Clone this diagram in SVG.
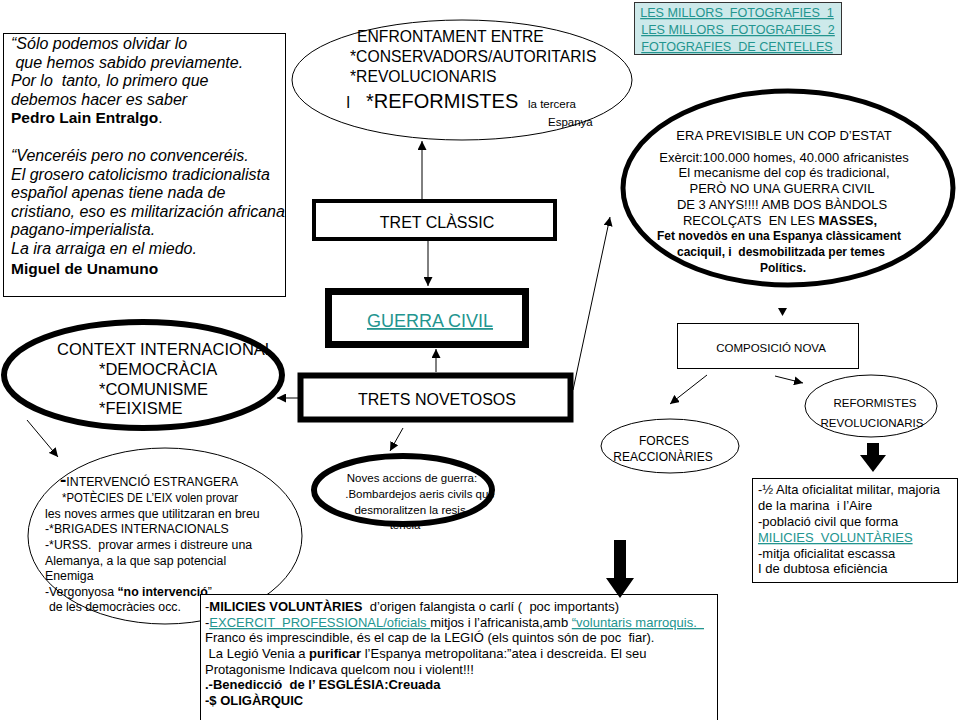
<svg xmlns="http://www.w3.org/2000/svg" width="960" height="720" viewBox="0 0 960 720" xml:space="preserve">
<defs>
<marker id="ah" viewBox="0 0 10 10" refX="10" refY="5" markerWidth="9" markerHeight="9" markerUnits="userSpaceOnUse" orient="auto"><path d="M0,0 L10,5 L0,10 z" fill="#000"/></marker>
</defs>
<style>
text{font-family:"Liberation Sans",Arial,Helvetica,sans-serif;fill:#000;white-space:pre}
.thin{fill:#fff;stroke:#000;stroke-width:1}
.link{fill:#23958f;text-decoration:underline}
.conn{stroke:#000;stroke-width:1;fill:none;marker-end:url(#ah)}
.q{font-size:16px;font-style:italic}
.b{font-weight:bold}
.mid{text-anchor:middle}
.s{font-size:13px}
.sb{font-size:13px;font-weight:bold}
</style>
<rect x="0" y="0" width="960" height="720" fill="#fff"/>

<g id="quotes">
<rect x="3.5" y="33.5" width="282" height="263" class="thin"/>
<text class="q" x="11" y="49">“Sólo podemos olvidar lo</text>
<text class="q" x="11" y="67.5" xml:space="preserve"> que hemos sabido previamente.</text>
<text class="q" x="11" y="86" xml:space="preserve">Por lo  tanto, lo primero que</text>
<text class="q" x="11" y="104.5">debemos hacer es saber</text>
<text x="11" y="123" font-size="15.5"><tspan class="b">Pedro Lain Entralgo</tspan>.</text>
<text class="q" x="11" y="161">“Venceréis pero no convenceréis.</text>
<text class="q" x="11" y="179.5">El grosero catolicismo tradicionalista</text>
<text class="q" x="11" y="198">español apenas tiene nada de</text>
<text class="q" x="11" y="216.5">cristiano, eso es militarización africana</text>
<text class="q" x="11" y="235">pagano-imperialista.</text>
<text class="q" x="11" y="253.5">La ira arraiga en el miedo.</text>
<text x="11" y="274" font-size="15.5" class="b">Miguel de Unamuno</text>
</g>

<g id="enfrontament">
<ellipse cx="462" cy="80" rx="170" ry="60" class="thin"/>
<text x="357" y="42" font-size="15.7">ENFRONTAMENT ENTRE</text>
<text x="350" y="62" font-size="15.7">*CONSERVADORS/AUTORITARIS</text>
<text x="350" y="82" font-size="15.7">*REVOLUCIONARIS</text>
<text x="346" y="108" font-size="15.7">I<tspan x="366" font-size="20">*REFORMISTES</tspan><tspan x="528" font-size="11.5">la tercera</tspan></text>
<text x="548" y="126" font-size="11.5">Espanya</text>
</g>

<g id="links">
<rect x="634.5" y="2.5" width="207" height="52" fill="#cde9ea" stroke="#333" stroke-width="1"/>
<text class="link mid" x="737" y="17" font-size="12.6" xml:space="preserve">LES MILLORS  FOTOGRAFIES  1</text>
<text class="link mid" x="738" y="34" font-size="12.6" xml:space="preserve">LES MILLORS  FOTOGRAFIES  2</text>
<text class="link mid" x="737" y="51" font-size="12.6" xml:space="preserve">FOTOGRAFIES  DE CENTELLES</text>
</g>

<g id="cop-estat">
<ellipse cx="788" cy="188" rx="165" ry="97" fill="#fff" stroke="#000" stroke-width="5"/>
<text class="mid" x="784" y="140" font-size="13">ERA PREVISIBLE UN COP D’ESTAT</text>
<text class="mid" x="784" y="162" font-size="13">Exèrcit:100.000 homes, 40.000 africanistes</text>
<text class="mid" x="784" y="177" font-size="13">El mecanisme del cop és tradicional,</text>
<text class="mid" x="782" y="193" font-size="13">PERÒ NO UNA GUERRA CIVIL</text>
<text class="mid" x="782" y="209" font-size="13">DE 3 ANYS!!!! AMB DOS BÀNDOLS</text>
<text class="mid" x="780" y="225" font-size="13" xml:space="preserve">RECOLÇATS  EN LES <tspan class="b">MASSES,</tspan></text>
<text class="mid b" x="779" y="240" font-size="12">Fet novedòs en una Espanya clàssicament</text>
<text class="mid b" x="781" y="256" font-size="12" xml:space="preserve">caciquil, i  desmobilitzada per temes</text>
<text class="mid b" x="783" y="272" font-size="12">Polítics.</text>
</g>

<g id="tret-classic">
<rect x="314" y="201" width="241" height="38" fill="#fff" stroke="#000" stroke-width="4"/>
<text class="mid" x="437" y="228" font-size="16">TRET CLÀSSIC</text>
</g>

<g id="guerra-civil">
<rect x="328.5" y="291.5" width="197" height="53" fill="#fff" stroke="#000" stroke-width="7"/>
<text class="mid link" x="430" y="327" font-size="18">GUERRA CIVIL</text>
</g>

<g id="trets-novetosos">
<rect x="300.5" y="375.5" width="270" height="44" fill="#fff" stroke="#000" stroke-width="6"/>
<text class="mid" x="437" y="405" font-size="16">TRETS NOVETOSOS</text>
</g>

<g id="context">
<ellipse cx="143" cy="375" rx="139" ry="53" fill="#fff" stroke="#000" stroke-width="6"/>
<text x="57" y="355" font-size="16.5">CONTEXT INTERNACIONAL</text>
<text x="99" y="375" font-size="16.5">*DEMOCRÀCIA</text>
<text x="99" y="395" font-size="16.5">*COMUNISME</text>
<text x="99" y="414" font-size="16.5">*FEIXISME</text>
</g>

<g id="intervencio">
<ellipse cx="165" cy="536" rx="137" ry="88" class="thin"/>
<text x="60" y="486" font-size="12.3"><tspan font-size="19" font-weight="bold">-</tspan>INTERVENCIÓ ESTRANGERA</text>
<text x="62" y="502" font-size="12.3" textLength="176" lengthAdjust="spacingAndGlyphs">*POTÈCIES DE L’EIX volen provar</text>
<text x="45" y="518" font-size="12.3">les noves armes que utilitzaran en breu</text>
<text x="45" y="533" font-size="12.3">-*BRIGADES INTERNACIONALS</text>
<text x="45" y="549" font-size="12.3" xml:space="preserve">-*URSS.  provar armes i distreure una</text>
<text x="45" y="565" font-size="12.3">Alemanya, a la que sap potencial</text>
<text x="45" y="580" font-size="12.3">Enemiga</text>
<text x="45" y="596" font-size="12.3">-Vergonyosa <tspan class="b">“no intervenció</tspan>”</text>
<text x="49" y="611" font-size="12.3">de les democràcies occ.</text>
</g>

<g id="noves-accions">
<ellipse cx="403" cy="490" rx="89" ry="34" fill="#fff" stroke="#000" stroke-width="6"/>
<text class="mid" x="412" y="482" font-size="11.5">Noves accions de guerra:</text>
<text class="mid" x="420" y="498" font-size="11.5">.Bombardejos aeris civils que</text>
<text class="mid" x="412" y="514" font-size="11.5">desmoralitzen la resis-</text>
<text class="mid" x="405" y="529" font-size="11.5">tència</text>
</g>

<g id="composicio">
<rect x="677.5" y="323.5" width="181" height="45" class="thin"/>
<text class="mid" x="771" y="352" font-size="11.5">COMPOSICIÓ NOVA</text>
</g>

<g id="forces">
<ellipse cx="670" cy="446" rx="69" ry="27" class="thin"/>
<text class="mid" x="664" y="445" font-size="12">FORCES</text>
<text class="mid" x="663" y="461" font-size="12">REACCIONÀRIES</text>
</g>

<g id="reformistes">
<ellipse cx="871" cy="406" rx="66" ry="31" class="thin"/>
<text class="mid" x="875" y="407" font-size="11.5">REFORMISTES</text>
<text class="mid" x="872" y="427" font-size="11.5">REVOLUCIONARIS</text>
</g>

<g id="republica">
<rect x="752.5" y="478.5" width="205" height="104" class="thin"/>
<text x="758" y="494" font-size="13">-½ Alta oficialitat militar, majoria</text>
<text x="758" y="510" font-size="13" xml:space="preserve">de la marina  i l’Aire</text>
<text x="758" y="526" font-size="13">-població civil que forma</text>
<text x="758" y="542" font-size="13" class="link" xml:space="preserve">MILICIES  VOLUNTÀRIES</text>
<text x="758" y="558" font-size="13">-mitja oficialitat escassa</text>
<text x="758" y="573" font-size="13">I de dubtosa eficiència</text>
</g>

<g id="sublevats">
<rect x="200.5" y="594.5" width="517" height="130" class="thin"/>
<text class="s" x="205" y="611" xml:space="preserve">-<tspan class="sb">MILICIES VOLUNTÀRIES</tspan>  d’origen falangista o carlí (  poc importants)</text>
<text class="s" x="205" y="627" xml:space="preserve">-<tspan class="link">EXCERCIT  PROFESSIONAL/oficials </tspan>mitjos i l’africanista,amb <tspan class="link">“voluntaris marroquis.  </tspan></text>
<text class="s" x="205" y="642" xml:space="preserve">Franco és imprescindible, és el cap de la LEGIÓ (els quintos són de poc  fiar).</text>
<text class="s" x="205" y="658" xml:space="preserve"> La Legió Venia a <tspan class="sb">purificar</tspan> l’Espanya metropolitana:”atea i descreida. El seu</text>
<text class="s" x="205" y="674">Protagonisme Indicava quelcom nou i violent!!!</text>
<text class="sb" x="205" y="689" xml:space="preserve">.-Benedicció  de l’ ESGLÉSIA:Creuada</text>
<text class="sb" x="205" y="705">-$ OLIGÀRQUIC</text>
</g>

<g id="connectors">
<line class="conn" x1="422" y1="199" x2="422" y2="141"/>
<line class="conn" x1="428" y1="241" x2="428" y2="286"/>
<line class="conn" x1="436" y1="372" x2="436" y2="349"/>
<line class="conn" x1="298" y1="398" x2="277" y2="398"/>
<line class="conn" x1="403" y1="428" x2="390" y2="451"/>
<line class="conn" x1="573" y1="390" x2="610" y2="217"/>
<line class="conn" x1="27" y1="420" x2="58" y2="457"/>
<line class="conn" x1="707" y1="375" x2="670" y2="404"/>
<line class="conn" x1="775" y1="376" x2="803" y2="383"/>
<path d="M778,308 L787,308 L782.5,316 z" fill="#000"/>
<path d="M867,443 L879,443 L879,455 L886,455 L873,472 L860,455 L867,455 z" fill="#000"/>
<path d="M614,540 L626,540 L626,578 L634,578 L620,598 L606,578 L614,578 z" fill="#000"/>
</g>
</svg>
